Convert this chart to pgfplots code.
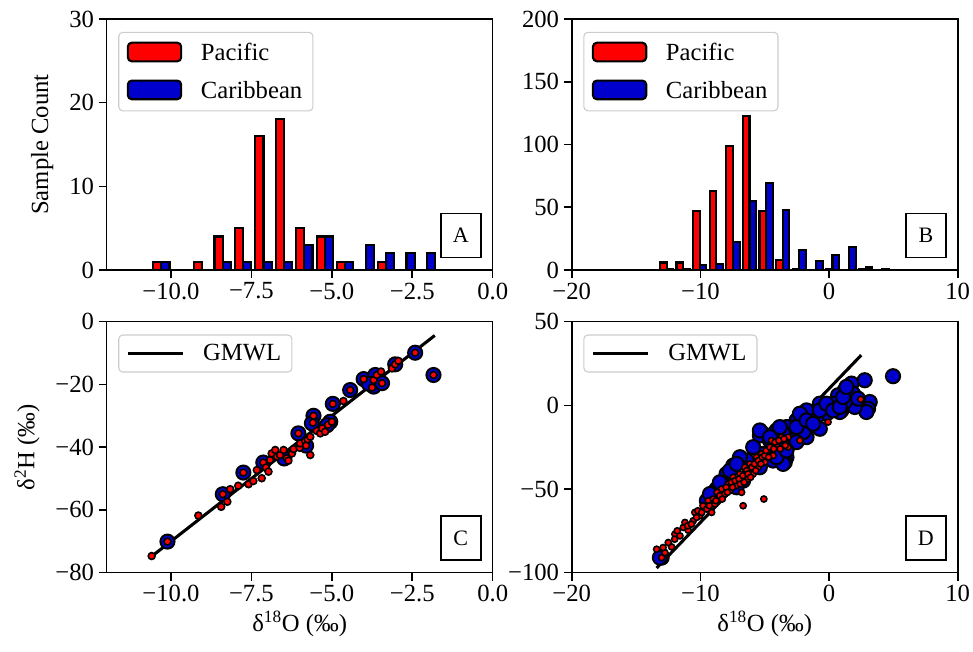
\documentclass[border=0pt]{standalone}
\usepackage{fontspec}
\setmainfont{Liberation Serif}
\usepackage{pgfplots}
\pgfplotsset{compat=1.18}

\definecolor{pac}{RGB}{255,0,0}
\definecolor{car}{RGB}{0,0,205}

\newcommand{\mainfont}{\fontsize{18.5}{21}\selectfont}

\pgfplotsset{
  panel/.style={
    scale only axis, width=289.5pt, height=188.25pt,
    axis line style={line width=1.2pt},
    every tick/.style={black, line width=1.2pt},
    major tick length=6pt,
    tick align=outside,
    xtick pos=lower, ytick pos=left,
    tick label style={font=\mainfont},
    label style={font=\mainfont},
    ylabel shift=5pt,
    /pgf/number format/assume math mode=true,
    legend cell align=left,
    legend style={draw=black!20, line width=0.8pt, rounded corners=3pt, fill=white,
      font=\mainfont, at={(0.03,0.949)}, anchor=north west,
      inner xsep=6pt, inner ysep=6pt, row sep=10pt,
      /tikz/every odd column/.append style={column sep=12pt}},
  },
  histo/.style={legend image code/.code={\draw[#1] (0pt,-6.5pt) rectangle (40pt,7.5pt);}},
  scat/.style={legend image code/.code={\draw[#1] (0pt,0pt) -- (41pt,0pt);},
    legend style={inner ysep=5pt}},
  pbar/.style={ybar, bar width=#1, bar shift=0pt, fill=pac, draw=black, line width=1.6pt},
  cbar/.style={ybar, bar width=#1, bar shift=0pt, fill=car, draw=black, line width=1.6pt},
  cdot/.style={only marks, mark=*, mark size=5.3pt, mark options={fill=car, draw=black, line width=1.5pt}},
  pdot/.style={only marks, mark=*, mark size=2.6pt, mark options={fill=pac, draw=black, line width=1.2pt}},
}

\newcommand{\tag}[1]{\node[draw, line width=1.2pt, fill=white, minimum width=30pt, minimum height=33pt,
  inner sep=0pt, anchor=south east, font=\fontsize{16.5}{18}\selectfont]
  at ([xshift=-8.3pt,yshift=8.8pt]rel axis cs:1,0) {#1};}

\begin{document}
\begin{tikzpicture}
\useasboundingbox (0,0) rectangle (729.75pt,489pt);

% A: histogram, small set
\begin{axis}[panel, histo, at={(80pt,286.5pt)}, anchor=south west,
  xmin=-12, xmax=0, ymin=0, ymax=30,
  xtick={-10,-7.5,-5,-2.5,0}, xticklabels={−10.0,−7.5,−5.0,−2.5,0.0},
  ytick={0,10,20,30},
  ylabel={Sample Count}]
\addplot[pbar=0.254] coordinates {
  (-10.427,1) (-9.792,0) (-9.157,1) (-8.522,4) (-7.887,5) (-7.252,16) (-6.617,18)
  (-5.982,5) (-5.347,4) (-4.712,1) (-4.077,0) (-3.442,1) (-2.807,0) (-2.172,0)};
\addlegendentry{Pacific}
\addplot[cbar=0.254] coordinates {
  (-10.173,1) (-9.538,0) (-8.903,0) (-8.268,1) (-7.633,1) (-6.998,1) (-6.363,1)
  (-5.728,3) (-5.093,4) (-4.458,1) (-3.823,3) (-3.188,2) (-2.553,2) (-1.918,2)};
\addlegendentry{Caribbean}
\tag{A}
\end{axis}

% B: histogram, full set
\begin{axis}[panel, histo, at={(428.8pt,286.5pt)}, anchor=south west,
  xmin=-20, xmax=10, ymin=0, ymax=200,
  xtick={-20,-10,0,10}, xticklabels={−20,−10,0,10},
  ytick={0,50,100,150,200}]
\addplot[pbar=0.516] coordinates {
  (-12.888,6) (-11.598,6) (-10.308,47) (-9.018,63) (-7.728,99) (-6.438,123) (-5.148,47)
  (-3.858,8) (-2.568,1) (-1.278,0) (0.012,1) (1.302,0) (2.592,1) (3.882,0)};
\addlegendentry{Pacific}
\addplot[cbar=0.516] coordinates {
  (-12.372,1) (-11.082,1) (-9.792,4) (-8.502,5) (-7.212,22) (-5.922,55) (-4.632,69)
  (-3.342,48) (-2.052,16) (-0.762,7) (0.528,12) (1.818,18) (3.108,2) (4.398,1)};
\addlegendentry{Caribbean}
\tag{B}
\end{axis}

% C: d2H vs d18O, small set
\begin{axis}[panel, scat, at={(80pt,59.5pt)}, anchor=south west,
  xmin=-12, xmax=0, ymin=-80, ymax=0,
  xtick={-10,-7.5,-5,-2.5,0}, xticklabels={−10.0,−7.5,−5.0,−2.5,0.0},
  ytick={-80,-60,-40,-20,0}, yticklabels={−80,−60,−40,−20,0},
  xlabel={δ\textsuperscript{18}O (‰)}, ylabel={δ\textsuperscript{2}H (‰)}]
\addplot[cdot, forget plot] coordinates {
  (-10.11,-70.1) (-8.39,-55.0) (-7.75,-48.1) (-7.13,-44.9) (-6.48,-43.6) (-6.04,-35.6)
  (-5.80,-39.5) (-5.57,-30.0) (-5.62,-32.4) (-5.05,-31.9) (-5.15,-33.0) (-4.97,-26.2)
  (-4.43,-21.8) (-4.01,-18.3) (-3.65,-17.0) (-3.70,-20.7) (-3.85,-19.8) (-3.44,-19.6)
  (-3.03,-13.6) (-2.41,-9.9) (-1.84,-17.0)};
\addplot[black, line width=2.3pt] coordinates {(-10.62,-74.96) (-1.80,-4.40)};
\addlegendentry{GMWL}
\addplot[pdot, forget plot] coordinates {
  (-10.60,-74.7) (-10.11,-70.1) (-9.15,-61.8) (-8.44,-59.0) (-8.25,-57.4) (-8.39,-55.0)
  (-8.16,-53.4) (-7.91,-52.3) (-7.75,-48.1) (-7.59,-51.8) (-7.44,-50.8) (-7.33,-47.3)
  (-7.18,-49.9) (-7.13,-44.9) (-7.05,-46.5) (-6.97,-47.8) (-6.92,-44.1) (-6.87,-42.0)
  (-6.76,-40.9) (-6.70,-43.0) (-6.61,-42.5) (-6.50,-40.9) (-6.40,-43.5) (-6.35,-44.3)
  (-6.24,-42.0) (-6.19,-40.6) (-6.04,-35.6) (-6.00,-40.2) (-5.99,-38.8) (-5.83,-38.0)
  (-5.80,-39.5) (-5.75,-37.5) (-5.67,-42.5) (-5.67,-36.7) (-5.57,-30.0) (-5.59,-32.2)
  (-5.47,-34.8) (-5.36,-35.6) (-5.30,-34.0) (-5.21,-35.1) (-5.12,-32.9) (-5.00,-31.9)
  (-4.97,-26.2) (-4.64,-25.3) (-4.43,-21.8) (-4.01,-18.3) (-3.75,-21.0) (-3.70,-18.6)
  (-3.60,-17.0) (-3.47,-15.9) (-3.44,-19.6) (-3.13,-14.9) (-3.03,-13.6) (-2.93,-12.5)
  (-2.41,-9.9) (-1.84,-17.0)};
\tag{C}
\end{axis}

% D: d2H vs d18O, full set
\begin{axis}[panel, scat, at={(428.8pt,59.5pt)}, anchor=south west,
  xmin=-20, xmax=10, ymin=-100, ymax=50,
  xtick={-20,-10,0,10}, xticklabels={−20,−10,0,10},
  ytick={-100,-50,0,50}, yticklabels={−100,−50,0,50},
  xlabel={δ\textsuperscript{18}O (‰)}]
\addplot[cdot, forget plot] coordinates {
  (2.77,15.0) (1.74,13.0) (1.22,9.0) (1.86,7.0) (3.16,2.0) (3.03,-2.0) (2.90,-4.0)
  (2.00,-1.0) (0.96,-3.0) (0.83,-4.0) (0.31,-1.0) (0.05,-1.0) (-0.72,0.0) (-0.72,1.0)
  (4.97,17.4) (2.25,4.0) (1.22,2.0) (0.70,6.0) (0.44,1.0) (-0.20,-5.0) (-0.98,-7.0)
  (-0.72,-14.0) (-1.75,-3.0) (-1.75,-19.0) (-1.50,-11.0) (-2.53,-9.0) (-2.27,-15.0)
  (-3.05,-13.0) (-3.31,-13.0) (-2.80,-21.0) (-2.00,-16.0) (-3.57,-17.0) (-4.08,-15.0)
  (-5.12,-17.0) (-3.05,-23.0) (-2.53,-22.0) (-3.57,-29.0) (-3.31,-31.0) (-3.44,-34.0)
  (-4.35,-33.0) (-4.08,-25.0) (-5.12,-29.0) (-5.38,-37.0) (-6.16,-39.0) (-6.41,-33.0)
  (-6.93,-31.0) (-7.45,-36.0) (-7.97,-41.0) (-8.23,-47.0) (-8.74,-50.0) (-9.13,-53.0)
  (-6.68,-45.0) (-7.19,-49.0) (-5.38,-18.0) (-4.60,-21.0) (-5.90,-25.0) (-13.01,-91.0)
  (-9.50,-57.0) (-13.15,-91.0) (-9.26,-53.0) (-8.49,-46.0) (-7.71,-39.0) (-7.19,-35.0)
  (-5.38,-15.0) (-4.60,-19.0) (-3.83,-13.0) (-2.53,-13.0) (-2.27,-5.0) (-1.75,-9.0)
  (-1.24,-11.0) (-0.72,-3.0) (-0.20,1.0) (0.31,-3.0) (0.83,-1.0) (1.09,5.0) (1.35,11.0)
  (-3.57,-35.0) (-4.08,-31.0) (-3.31,-27.0)};
\addplot[black, line width=2.3pt] coordinates {(-13.40,-97.2) (2.50,30.0)};
\addlegendentry{GMWL}
\addplot[pdot, mark size=2.3pt, forget plot] coordinates {
  (-13.40,-86) (-13.01,-91) (-12.76,-88) (-12.24,-84.6) (-11.98,-77) (-11.59,-78)
  (-11.33,-73) (-10.95,-74.6) (-10.56,-69) (-10.43,-64) (-10.04,-66) (-9.65,-61)
  (-9.39,-57) (-9.13,-64) (-8.87,-59) (-8.62,-55) (-8.36,-50) (-8.10,-53) (-7.84,-47)
  (-7.71,-51) (-7.45,-43) (-7.19,-48) (-6.93,-41) (-6.80,-52) (-6.68,-60) (-6.55,-37)
  (-6.29,-44) (-6.16,-35) (-5.90,-41) (-5.64,-31) (-5.51,-37) (-5.25,-29) (-5.07,-56)
  (-4.99,-34) (-4.74,-27) (-4.47,-21) (-4.35,-30) (-4.08,-24) (-3.70,-19) (-3.31,-23)
  (-2.27,-21) (-0.08,-10) (2.46,3.6) (-3.18,-19) (-3.18,-25)
  (-12.90,-85) (-12.50,-82) (-12.00,-80) (-11.80,-75) (-11.20,-70) (-11.00,-72)
  (-10.70,-71) (-10.30,-67) (-10.20,-63) (-9.90,-64) (-9.80,-60) (-9.50,-62) (-9.30,-60)
  (-9.00,-56) (-8.80,-57) (-8.70,-52) (-8.50,-54) (-8.30,-56) (-8.00,-49) (-7.90,-52)
  (-7.60,-46) (-7.50,-49) (-7.30,-45) (-7.00,-44) (-6.90,-47) (-6.70,-42) (-6.60,-46)
  (-6.40,-39) (-6.30,-41) (-6.10,-43) (-6.00,-37) (-5.80,-35) (-5.70,-39) (-5.50,-33)
  (-5.30,-35) (-5.20,-31) (-5.00,-30) (-4.90,-27) (-4.70,-31) (-4.60,-25) (-4.30,-26)
  (-4.20,-22) (-3.90,-21) (-3.80,-26) (-3.50,-20) (-3.40,-24)};
\tag{D}
\end{axis}
\end{tikzpicture}
\end{document}
